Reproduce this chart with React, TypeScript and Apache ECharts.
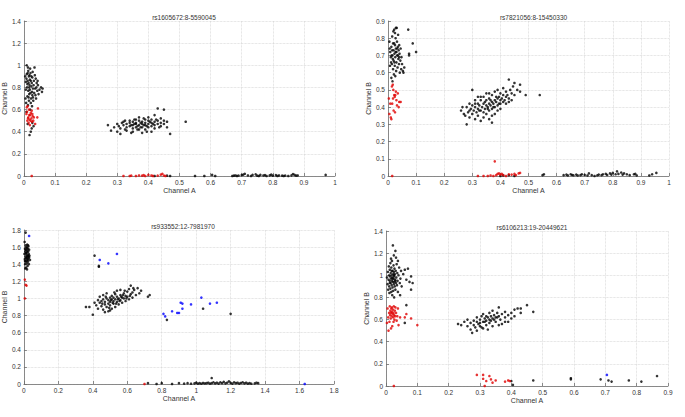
import React, { useEffect, useRef } from "react";
import * as echarts from "echarts";

// ---------- Titles ----------
const titles = ["rs1605672:8-5590045", "rs7821056:8-15450330", "rs933552:12-7981970", "rs6106213:19-20449621"];
const xName = "Channel A";
const yName = "Channel B";

// ---------- Axis ranges [min, max, interval] ----------
const xRanges = [[0, 1, 0.1], [0, 1, 0.1], [0, 1.8, 0.2], [0, 0.9, 0.1]];
const yRanges = [[0, 1.4, 0.2], [0, 0.9, 0.1], [0, 1.8, 0.2], [0, 1.4, 0.2]];

// ---------- Plot 1: rs1605672 ----------
const p1BlackLeft = [[0.012,0.93],[0.018,0.91],[0.008,0.88],[0.022,0.86],[0.015,0.84],[0.027,0.89],[0.031,0.82],[0.010,0.80],[0.019,0.78],[0.024,0.81],[0.006,0.85],[0.014,0.95],[0.020,0.97],[0.009,1.00],[0.034,0.98],[0.026,0.76],[0.017,0.74],[0.011,0.72],[0.029,0.71],[0.036,0.79],[0.041,0.84],[0.038,0.88],[0.045,0.82],[0.050,0.78],[0.055,0.80],[0.060,0.79],[0.058,0.76],[0.047,0.74],[0.033,0.75],[0.023,0.70],[0.016,0.68],[0.007,0.66],[0.013,0.64],[0.004,0.90],[0.021,0.93],[0.028,0.94],[0.016,0.90],[0.032,0.86],[0.025,0.84],[0.019,0.87],[0.011,0.83],[0.006,0.78],[0.014,0.77],[0.037,0.73],[0.043,0.77],[0.030,0.68],[0.022,0.66],[0.026,0.63],[0.035,0.91],[0.040,0.80],[0.018,0.82],[0.012,0.86],[0.009,0.92],[0.024,0.90],[0.029,0.79],[0.015,0.71],[0.020,0.60],[0.008,0.58],[0.031,0.45],[0.025,0.43],[0.022,0.40],[0.018,0.37],[0.012,0.47],[0.027,0.48],[0.005,0.70],[0.039,0.70],[0.044,0.86],[0.013,0.98],[0.021,0.75],[0.017,0.80],[0.027,0.73]];
const p1RedLeft = [[0.012,0.63],[0.016,0.60],[0.010,0.58],[0.020,0.55],[0.014,0.53],[0.018,0.51],[0.024,0.52],[0.026,0.49],[0.008,0.56],[0.022,0.57],[0.028,0.54],[0.030,0.50],[0.015,0.48],[0.019,0.46],[0.011,0.50],[0.032,0.53],[0.045,0.61],[0.043,0.53],[0.036,0.47],[0.025,0.59],[0.017,0.55],[0.013,0.52],[0.021,0.50],[0.009,0.62],[0.027,0.56],[0.025,0]];
const p1BlackMid = [[0.27,0.46],[0.28,0.41],[0.29,0.44],[0.30,0.47],[0.30,0.40],[0.31,0.43],[0.31,0.38],[0.32,0.46],[0.32,0.49],[0.33,0.44],[0.33,0.47],[0.33,0.41],[0.34,0.48],[0.34,0.45],[0.34,0.50],[0.35,0.46],[0.35,0.43],[0.35,0.49],[0.35,0.40],[0.36,0.47],[0.36,0.51],[0.36,0.44],[0.36,0.48],[0.37,0.46],[0.37,0.50],[0.37,0.42],[0.37,0.53],[0.38,0.47],[0.38,0.44],[0.38,0.49],[0.38,0.39],[0.39,0.46],[0.39,0.51],[0.39,0.48],[0.39,0.42],[0.40,0.47],[0.40,0.50],[0.40,0.44],[0.40,0.53],[0.41,0.48],[0.41,0.45],[0.41,0.51],[0.41,0.40],[0.42,0.46],[0.42,0.49],[0.42,0.55],[0.42,0.43],[0.43,0.47],[0.43,0.50],[0.43,0.61],[0.44,0.48],[0.44,0.52],[0.44,0.45],[0.45,0.50],[0.45,0.47],[0.45,0.60],[0.46,0.49],[0.46,0.44],[0.47,0.38],[0.52,0.49],[0.305,0.45],[0.315,0.48],[0.325,0.42],[0.345,0.46],[0.355,0.47],[0.365,0.45],[0.375,0.48],[0.385,0.46],[0.395,0.45],[0.405,0.49],[0.415,0.47],[0.355,0.51],[0.365,0.42],[0.385,0.52],[0.395,0.40],[0.425,0.51],[0.435,0.44],[0.345,0.39],[0.325,0.50],[0.375,0.44]];
const p1RedBottom = [[0.32,0],[0.34,0],[0.345,0.003],[0.36,0],[0.37,0.005],[0.38,0.003],[0.385,0.008],[0.39,0],[0.40,0.01],[0.41,0.005],[0.415,0],[0.43,0.003],[0.44,0.012],[0.445,0.02],[0.45,0.004],[0.455,0]];
const p1BlackBottom = [[0.42,0],[0.46,0.003],[0.47,0],[0.55,0],[0.58,0],[0.605,0.01],[0.615,0],[0.67,0],[0.675,0.003],[0.68,0.005],[0.685,0],[0.69,0.004],[0.70,0.008],[0.705,0.012],[0.71,0.02],[0.72,0.005],[0.73,0],[0.735,0.01],[0.745,0.015],[0.75,0.003],[0.755,0],[0.76,0.01],[0.77,0.005],[0.775,0.008],[0.78,0],[0.79,0.006],[0.795,0.012],[0.80,0.003],[0.81,0.008],[0.815,0],[0.82,0.005],[0.83,0.003],[0.835,0],[0.84,0.004],[0.85,0],[0.86,0.006],[0.865,0.018],[0.87,0.01],[0.875,0.003],[0.88,0.005],[0.97,0.01]];

// ---------- Plot 2: rs7821056 ----------
const p2BlackLeft = [[0.005,0.78],[0.008,0.72],[0.010,0.69],[0.012,0.75],[0.014,0.65],[0.015,0.81],[0.016,0.70],[0.018,0.62],[0.018,0.77],[0.020,0.73],[0.020,0.67],[0.021,0.59],[0.022,0.85],[0.023,0.71],[0.024,0.64],[0.025,0.76],[0.026,0.69],[0.027,0.80],[0.028,0.74],[0.029,0.61],[0.030,0.66],[0.030,0.72],[0.031,0.86],[0.032,0.78],[0.033,0.70],[0.034,0.63],[0.035,0.75],[0.036,0.82],[0.037,0.68],[0.038,0.73],[0.039,0.65],[0.040,0.76],[0.041,0.71],[0.042,0.60],[0.044,0.67],[0.045,0.74],[0.047,0.62],[0.048,0.69],[0.050,0.65],[0.053,0.61],[0.055,0.60],[0.058,0.63],[0.012,0.57],[0.016,0.55],[0.019,0.84],[0.025,0.83],[0.028,0.86],[0.011,0.66],[0.007,0.64],[0.015,0.73],[0.022,0.77],[0.027,0.72],[0.033,0.74],[0.017,0.68],[0.023,0.66],[0.013,0.70],[0.035,0.70],[0.026,0.58],[0.040,0.69],[0.006,0.74],[0.072,0.85],[0.088,0.77],[0.100,0.72],[0.075,0.71],[0.075,0.70]];
const p2RedLeft = [[0.003,0.45],[0.005,0.36],[0.008,0.42],[0.010,0.34],[0.012,0.33],[0.014,0.52],[0.015,0.42],[0.017,0.53],[0.019,0.50],[0.020,0.38],[0.022,0.47],[0.024,0.46],[0.026,0.47],[0.028,0.49],[0.030,0.44],[0.032,0.41],[0.035,0.48],[0.038,0.40],[0.040,0.43],[0.045,0.43],[0.018,0.45],[0.025,0.37],[0.015,0]];
const p2BlackMid = [[0.26,0.38],[0.265,0.40],[0.27,0.36],[0.275,0.35],[0.28,0.30],[0.28,0.40],[0.285,0.37],[0.29,0.34],[0.29,0.42],[0.295,0.39],[0.30,0.36],[0.30,0.41],[0.30,0.50],[0.305,0.38],[0.31,0.33],[0.31,0.40],[0.31,0.44],[0.315,0.37],[0.32,0.39],[0.32,0.42],[0.32,0.35],[0.325,0.41],[0.33,0.38],[0.33,0.44],[0.33,0.32],[0.335,0.40],[0.34,0.42],[0.34,0.37],[0.34,0.46],[0.345,0.39],[0.35,0.41],[0.35,0.44],[0.35,0.36],[0.35,0.48],[0.355,0.40],[0.36,0.42],[0.36,0.38],[0.36,0.45],[0.365,0.41],[0.37,0.43],[0.37,0.39],[0.37,0.47],[0.37,0.31],[0.375,0.42],[0.38,0.44],[0.38,0.40],[0.38,0.49],[0.385,0.43],[0.39,0.45],[0.39,0.41],[0.39,0.38],[0.395,0.46],[0.40,0.44],[0.40,0.48],[0.40,0.42],[0.405,0.45],[0.41,0.47],[0.41,0.43],[0.41,0.51],[0.415,0.44],[0.42,0.46],[0.42,0.49],[0.42,0.42],[0.425,0.47],[0.43,0.45],[0.43,0.56],[0.435,0.50],[0.44,0.48],[0.44,0.44],[0.445,0.52],[0.45,0.47],[0.45,0.54],[0.46,0.50],[0.47,0.49],[0.47,0.53],[0.49,0.47],[0.54,0.47],[0.31,0.42],[0.325,0.38],[0.345,0.43],[0.355,0.39],[0.365,0.44],[0.375,0.40],[0.385,0.46],[0.395,0.42],[0.36,0.33],[0.34,0.34],[0.38,0.36],[0.40,0.39],[0.43,0.43],[0.33,0.46],[0.36,0.48],[0.39,0.50],[0.32,0.46],[0.29,0.38],[0.37,0.35]];
const p2RedBottom = [[0.32,0],[0.34,0],[0.355,0],[0.365,0.003],[0.375,0],[0.385,0.005],[0.39,0.012],[0.395,0.015],[0.40,0.008],[0.405,0.013],[0.41,0.005],[0.42,0],[0.43,0.01],[0.44,0.008],[0.45,0.012],[0.455,0.005],[0.465,0.015],[0.47,0.018],[0.38,0.085]];
const p2BlackBottom = [[0.40,0],[0.41,0.003],[0.43,0.005],[0.45,0],[0.55,0.005],[0.555,0.01],[0.625,0.005],[0.635,0.008],[0.64,0.003],[0.65,0.01],[0.655,0.006],[0.66,0.004],[0.67,0.008],[0.675,0.003],[0.685,0.005],[0.69,0.01],[0.70,0.006],[0.71,0.003],[0.715,0.015],[0.725,0.005],[0.735,0],[0.745,0.004],[0.75,0.008],[0.76,0.005],[0.765,0.01],[0.775,0.012],[0.78,0.006],[0.79,0.015],[0.795,0.008],[0.80,0.018],[0.81,0.01],[0.815,0.027],[0.82,0.012],[0.83,0.02],[0.835,0.008],[0.84,0.015],[0.85,0.01],[0.86,0.005],[0.875,0.01],[0.88,0.012],[0.885,0.003],[0.93,0.003],[0.94,0.01],[0.955,0.018]];

// ---------- Plot 3: rs933552 ----------
const p3BlackLeft = [[0.003,1.52],[0.005,1.46],[0.006,1.58],[0.007,1.40],[0.008,1.55],[0.009,1.49],[0.010,1.62],[0.010,1.43],[0.011,1.53],[0.012,1.36],[0.013,1.47],[0.014,1.60],[0.015,1.51],[0.015,1.44],[0.016,1.56],[0.017,1.41],[0.018,1.49],[0.019,1.63],[0.020,1.54],[0.020,1.46],[0.021,1.38],[0.022,1.58],[0.023,1.50],[0.024,1.43],[0.025,1.55],[0.026,1.61],[0.027,1.47],[0.028,1.52],[0.029,1.40],[0.030,1.57],[0.032,1.50],[0.035,1.45],[0.004,1.66],[0.008,1.35],[0.012,1.57],[0.018,1.34],[0.022,1.45],[0.026,1.50],[0.014,1.53],[0.019,1.59],[0.024,1.62],[0.030,1.48],[0.006,1.44],[0.016,1.48],[0.010,1.77]];
const p3Blue = [[0.03,1.73],[0.44,1.45],[0.49,1.41],[0.54,1.52],[0.81,0.82],[0.82,0.79],[0.86,0.85],[0.89,0.83],[0.90,0.83],[0.91,0.95],[0.92,0.94],[0.92,0.88],[0.97,0.93],[1.03,1.01],[1.08,0.94],[1.12,0.95],[1.63,0]];
const p3Red = [[0.005,1.22],[0.01,1.16],[0.015,1.15],[0.005,1.0],[0.70,0]];
const p3BlackMid = [[0.38,0.90],[0.40,0.81],[0.41,0.95],[0.42,0.92],[0.43,0.98],[0.43,0.88],[0.44,0.95],[0.44,1.02],[0.45,0.91],[0.45,0.97],[0.46,0.87],[0.46,0.99],[0.46,1.04],[0.47,0.93],[0.47,0.96],[0.48,1.00],[0.48,0.90],[0.48,1.06],[0.49,0.94],[0.49,0.98],[0.49,0.85],[0.50,1.01],[0.50,0.96],[0.50,0.92],[0.51,0.99],[0.51,1.03],[0.51,0.88],[0.52,0.97],[0.52,1.01],[0.52,0.94],[0.53,1.05],[0.53,0.99],[0.53,0.90],[0.54,1.02],[0.54,0.96],[0.54,1.09],[0.55,1.00],[0.55,0.93],[0.56,1.04],[0.56,0.98],[0.56,1.10],[0.57,1.01],[0.57,0.95],[0.58,1.06],[0.58,1.00],[0.59,1.03],[0.59,0.97],[0.60,1.08],[0.60,1.02],[0.61,1.11],[0.61,0.99],[0.62,1.05],[0.62,1.15],[0.63,1.07],[0.63,1.01],[0.64,1.10],[0.65,1.04],[0.66,1.12],[0.67,1.06],[0.68,1.09],[0.72,1.02],[0.73,1.04],[0.36,0.90],[0.475,1.02],[0.505,0.98],[0.525,1.07],[0.545,0.99],[0.565,1.02],[0.585,1.09],[0.455,0.94],[0.495,0.89],[0.515,0.95],[0.535,0.94],[0.555,0.97],[0.575,1.04],[0.595,1.00],[0.615,1.03],[0.635,1.12],[0.50,0.86],[0.47,0.84],[0.41,1.50],[0.435,1.37],[0.435,1.38],[0.83,0.75],[1.04,0.88],[1.20,0.82]];
const p3BlackBottom = [[0.72,0.01],[0.77,0],[0.80,0.01],[0.86,0],[0.90,0.01],[0.93,0.005],[0.95,0.01],[0.97,0.003],[0.99,0.008],[1.00,0.015],[1.01,0.005],[1.02,0.01],[1.03,0.003],[1.04,0.012],[1.05,0.006],[1.06,0.01],[1.07,0.015],[1.08,0.005],[1.09,0.07],[1.09,0.01],[1.10,0.02],[1.11,0.008],[1.12,0.015],[1.13,0.005],[1.14,0.02],[1.15,0.01],[1.16,0.025],[1.17,0.008],[1.18,0.015],[1.19,0.03],[1.20,0.012],[1.21,0.005],[1.22,0.02],[1.23,0.01],[1.24,0.015],[1.25,0.005],[1.26,0.012],[1.27,0.02],[1.28,0.008],[1.29,0.015],[1.30,0.005],[1.31,0.01],[1.32,0.003],[1.34,0.008],[1.35,0.015],[1.36,0.01]];

// ---------- Plot 4: rs6106213 ----------
const p4BlackLeft = [[0.003,0.98],[0.005,0.92],[0.006,1.03],[0.007,0.87],[0.008,0.96],[0.009,1.08],[0.010,0.90],[0.010,1.00],[0.011,0.84],[0.012,0.95],[0.012,1.05],[0.013,0.99],[0.014,0.88],[0.014,1.11],[0.015,0.93],[0.015,1.02],[0.016,0.97],[0.017,0.85],[0.017,1.07],[0.018,0.91],[0.018,1.00],[0.019,0.95],[0.019,1.13],[0.020,0.82],[0.020,0.98],[0.021,1.04],[0.021,0.89],[0.022,0.94],[0.022,1.27],[0.023,1.01],[0.023,0.86],[0.024,0.97],[0.024,1.09],[0.025,0.92],[0.025,1.03],[0.026,0.99],[0.026,0.80],[0.027,0.94],[0.027,1.06],[0.028,0.90],[0.028,1.01],[0.029,0.96],[0.030,1.22],[0.030,0.87],[0.031,1.04],[0.032,0.93],[0.033,0.98],[0.034,1.10],[0.035,0.91],[0.036,1.02],[0.037,0.95],[0.038,0.85],[0.040,1.00],[0.042,1.07],[0.044,0.93],[0.046,0.97],[0.048,1.04],[0.050,0.90],[0.055,1.01],[0.060,1.05],[0.065,0.96],[0.070,1.06],[0.075,0.94],[0.080,0.99],[0.085,0.93],[0.080,0.87],[0.045,0.82],[0.032,1.16],[0.025,1.18],[0.016,1.15],[0.038,1.13],[0.012,0.93],[0.021,0.97],[0.026,1.00],[0.018,1.04],[0.030,0.95],[0.065,0.73],[0.06,0.57]];
const p4RedLeft = [[0.003,0.57],[0.005,0.70],[0.007,0.62],[0.008,0.50],[0.010,0.66],[0.011,0.58],[0.012,0.72],[0.013,0.64],[0.014,0.68],[0.015,0.61],[0.016,0.66],[0.017,0.70],[0.018,0.63],[0.019,0.67],[0.020,0.54],[0.021,0.65],[0.022,0.69],[0.023,0.62],[0.024,0.66],[0.025,0.72],[0.026,0.64],[0.027,0.60],[0.028,0.68],[0.029,0.63],[0.030,0.71],[0.032,0.66],[0.034,0.59],[0.036,0.63],[0.038,0.70],[0.040,0.55],[0.045,0.62],[0.060,0.62],[0.065,0.65],[0.080,0.61],[0.100,0.55],[0.016,0.52],[0.024,0.58],[0.019,0.71],[0.025,0]];
const p4BlackMid = [[0.23,0.56],[0.24,0.55],[0.25,0.58],[0.26,0.54],[0.26,0.60],[0.27,0.57],[0.27,0.51],[0.275,0.48],[0.28,0.59],[0.28,0.55],[0.285,0.53],[0.29,0.58],[0.29,0.62],[0.295,0.56],[0.30,0.60],[0.30,0.54],[0.305,0.63],[0.31,0.58],[0.31,0.65],[0.31,0.52],[0.315,0.61],[0.32,0.59],[0.32,0.63],[0.32,0.55],[0.325,0.62],[0.33,0.60],[0.33,0.66],[0.33,0.57],[0.335,0.63],[0.34,0.61],[0.34,0.68],[0.34,0.54],[0.345,0.64],[0.35,0.62],[0.35,0.58],[0.355,0.66],[0.36,0.63],[0.36,0.71],[0.365,0.60],[0.37,0.65],[0.37,0.56],[0.38,0.62],[0.38,0.67],[0.39,0.64],[0.39,0.58],[0.40,0.66],[0.40,0.61],[0.41,0.69],[0.41,0.63],[0.42,0.70],[0.43,0.66],[0.43,0.70],[0.45,0.73],[0.47,0.67],[0.325,0.51],[0.30,0.57],[0.315,0.58],[0.345,0.60],[0.355,0.62],[0.335,0.59],[0.305,0.53],[0.29,0.50],[0.36,0.55],[0.38,0.58]];
const p4RedBottom = [[0.29,0.10],[0.31,0.10],[0.31,0.065],[0.32,0.045],[0.315,0],[0.33,0.09],[0.335,0.06],[0.34,0.03],[0.35,0.05],[0.38,0.04],[0.39,0.05],[0.395,0.045]];
const p4BlackBottom = [[0.40,0.045],[0.405,0.01],[0.47,0.05],[0.59,0.06],[0.59,0.07],[0.685,0.06],[0.71,0.05],[0.72,0.04],[0.775,0.05],[0.815,0.04],[0.865,0.09]];
const p4Blue = [[0.705,0.1]];

const BLACK = "#000000";
const RED = "#e00000";
const BLUE = "#0000ff";

const seriesSpec: [number, string, number[][]][] = [
  [0, BLACK, p1BlackLeft], [0, BLACK, p1BlackMid], [0, BLACK, p1BlackBottom], [0, RED, p1RedLeft], [0, RED, p1RedBottom],
  [1, BLACK, p2BlackLeft], [1, BLACK, p2BlackMid], [1, BLACK, p2BlackBottom], [1, RED, p2RedLeft], [1, RED, p2RedBottom],
  [2, BLACK, p3BlackLeft], [2, BLACK, p3BlackMid], [2, BLACK, p3BlackBottom], [2, RED, p3Red], [2, BLUE, p3Blue],
  [3, BLACK, p4BlackLeft], [3, BLACK, p4BlackMid], [3, BLACK, p4BlackBottom], [3, RED, p4RedLeft], [3, RED, p4RedBottom], [3, BLUE, p4Blue],
];

const FONT = "Liberation Sans";

export default function App() {
  const ref = useRef<HTMLDivElement>(null);
  useEffect(() => {
    if (!ref.current) return;
    const chart = echarts.init(ref.current, undefined, { renderer: "svg" });
    const grids = [
      { left: 23, top: 21, width: 312, height: 155 },
      { left: 388, top: 21, width: 281, height: 155 },
      { left: 22, top: 230, width: 312, height: 154 },
      { left: 386, top: 231, width: 282, height: 155 },
    ];
    const axisCommon = {
      axisLine: { show: true, onZero: false, lineStyle: { color: "#6f6f6f", width: 0.8 } },
      axisTick: { show: true, inside: true, length: 3, lineStyle: { color: "#6f6f6f", width: 0.8 } },
      splitLine: { show: true, lineStyle: { color: "#cfcfcf", type: "dotted", width: 0.7 } },
      axisLabel: { fontSize: 6.5, color: "#333", fontFamily: FONT, showMinLabel: true, showMaxLabel: true },
      nameTextStyle: { fontSize: 7, color: "#333", fontFamily: FONT },
      nameLocation: "middle",
    };
    const option: any = {
      animation: false,
      backgroundColor: "#ffffff",
      title: grids.map((g, i) => ({
        text: titles[i],
        left: g.left + g.width / 2,
        top: g.top - 12,
        textAlign: "center",
        textStyle: { fontSize: 6.5, fontWeight: "normal", color: "#333", fontFamily: FONT },
      })),
      grid: grids.map((g) => ({ ...g, containLabel: false })),
      xAxis: grids.map((_, i) => ({
        ...axisCommon,
        type: "value",
        gridIndex: i,
        min: xRanges[i][0],
        max: xRanges[i][1],
        interval: xRanges[i][2],
        name: xName,
        nameGap: 9,
        axisLabel: { ...axisCommon.axisLabel, margin: 3 },
      })),
      yAxis: grids.map((_, i) => ({
        ...axisCommon,
        type: "value",
        gridIndex: i,
        min: yRanges[i][0],
        max: yRanges[i][1],
        interval: yRanges[i][2],
        name: yName,
        nameGap: 10,
        axisLabel: { ...axisCommon.axisLabel, margin: 3 },
      })),
      series: seriesSpec.map(([gi, color, data]) => ({
        type: "scatter",
        xAxisIndex: gi,
        yAxisIndex: gi,
        data,
        symbol: "circle",
        symbolSize: 2.6,
        itemStyle: { color },
        silent: true,
      })),
    };
    chart.setOption(option);
    return () => chart.dispose();
  }, []);
  return <div ref={ref} style={{ position: "absolute", left: 0, top: 0, width: 685, height: 417, background: "#fff" }} />;
}
